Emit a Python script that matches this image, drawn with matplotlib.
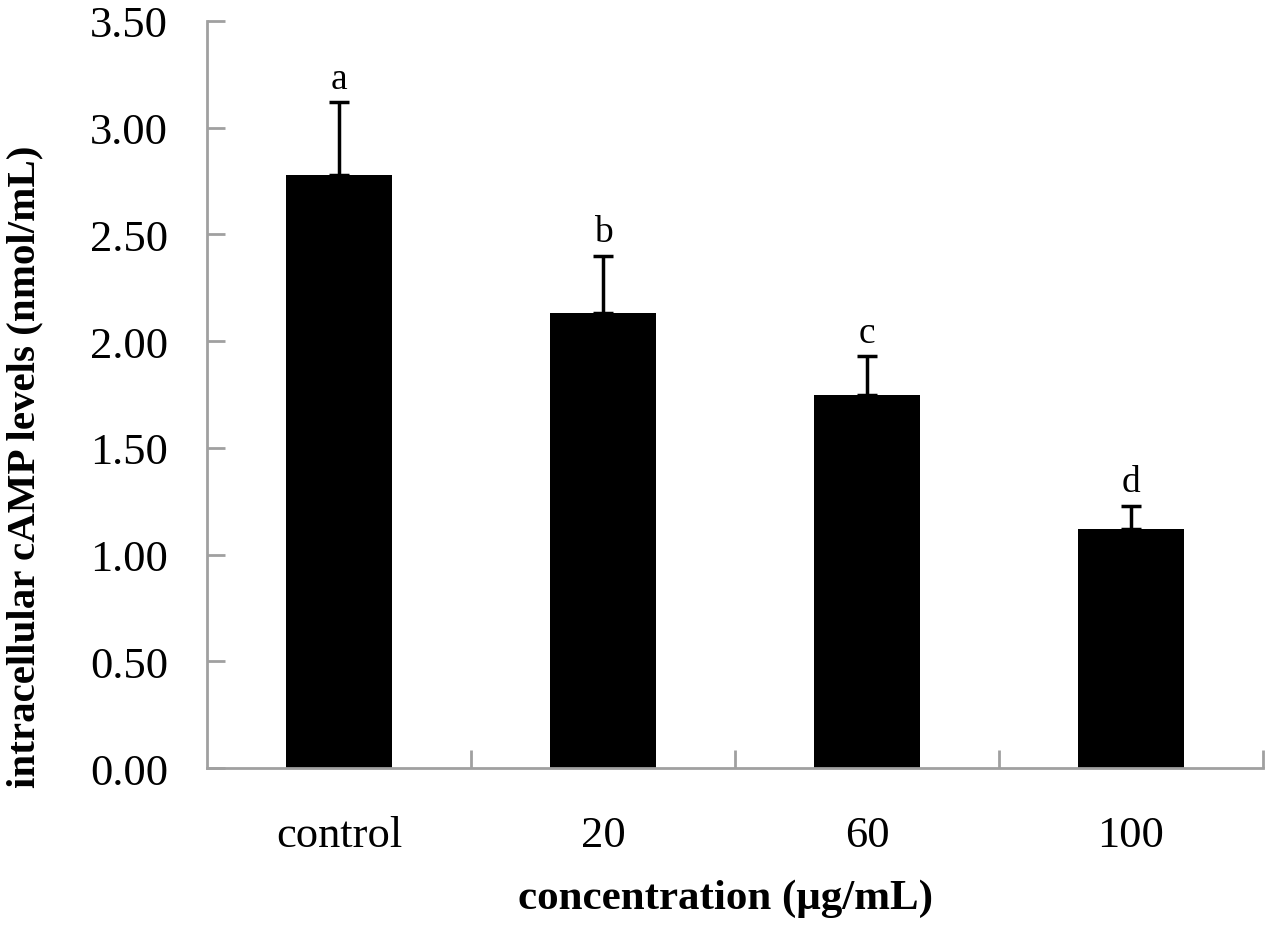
import numpy as np
import matplotlib.pyplot as plt

groups = ['control', '20', '60', '100']
camp = [2.78, 2.13, 1.75, 1.12]
camp_err = [0.34, 0.27, 0.18, 0.11]
letters = ['a', 'b', 'c', 'd']

plt.rcParams['font.family'] = ['Liberation Serif', 'DejaVu Serif']

fig = plt.figure(figsize=(12.72, 9.28), dpi=100)
ax = fig.add_axes([0.1627, 0.1713, 0.8302, 0.805])

x = np.arange(len(groups))
ax.bar(x, camp, width=0.4, color='black', zorder=2)
ax.errorbar(x, camp, yerr=[np.zeros(len(camp)), camp_err], fmt='none',
            ecolor='black', elinewidth=2.5, capsize=7, capthick=2.5, zorder=3)

for xi, v, e, lab in zip(x, camp, camp_err, letters):
    ax.text(xi, v + e + 0.03, lab, ha='center', va='bottom', fontsize=27)

ax.set_xlim(-0.5, len(groups) - 0.5)
ax.set_ylim(0, 3.5)
ax.set_yticks(np.arange(0, 3.51, 0.5))
ax.set_yticklabels([f'{v:.2f}' for v in np.arange(0, 3.51, 0.5)])

# category labels without ticks, boundary ticks separately
ax.set_xticks(x)
ax.set_xticklabels(groups)
ax.set_xticks(np.arange(0.5, len(groups), 1.0), minor=True)
ax.tick_params(axis='x', which='major', length=0, pad=34, labelsize=32)
ax.tick_params(axis='x', which='minor', direction='in', length=13, width=2, color='#a0a0a0')
ax.tick_params(axis='y', direction='in', length=13, width=2, color='#a0a0a0', labelsize=32, pad=28)

for s in ['top', 'right']:
    ax.spines[s].set_visible(False)
for s in ['left', 'bottom']:
    ax.spines[s].set_color('#a0a0a0')
    ax.spines[s].set_linewidth(2)

ax.set_xlabel('concentration (μg/mL)', fontsize=31, fontweight='bold', va='center')
ax.set_ylabel('intracellular cAMP levels (nmol/mL)', fontsize=29.5, fontweight='bold', va='center')
ax.xaxis.set_label_coords(0.4915, -0.173)
ax.yaxis.set_label_coords(-0.172, 0.404)

fig.savefig('out.png', dpi=100)
